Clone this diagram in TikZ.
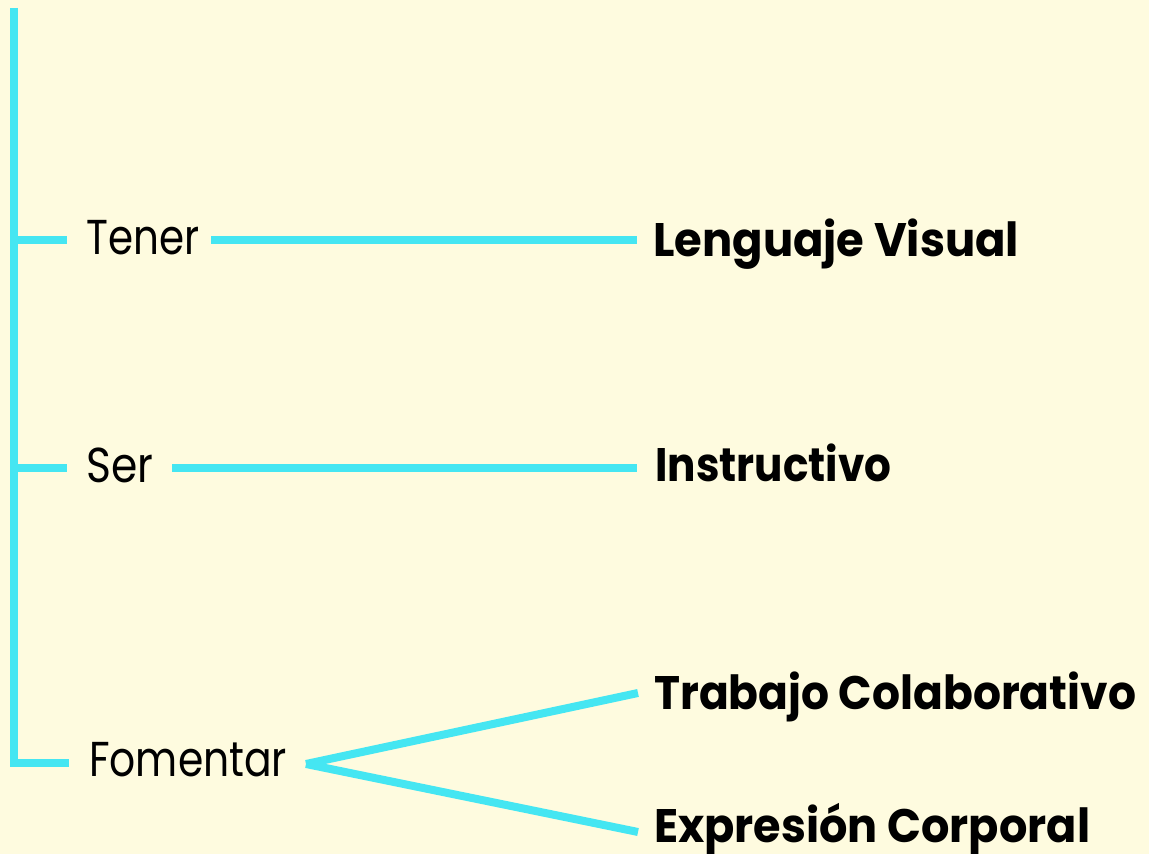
\documentclass[tikz,border=0pt]{standalone}
\usepackage{fontspec}
\setmainfont{Poppins}
\usepackage{graphicx}
\definecolor{bg}{HTML}{FEFBDF}
\definecolor{cy}{HTML}{45E6F2}
\newcommand\fitto[2]{\resizebox{#1}{\height}{#2}}
\begin{document}
\begin{tikzpicture}[x=1pt,y=1pt,
  conn/.style={draw=cy,line width=8pt,line cap=butt},
  reg/.style={anchor=base west,inner sep=0pt,font=\fontsize{49}{58}\selectfont},
  bld/.style={anchor=base west,inner sep=0pt,font=\fontsize{47}{56}\selectfont\bfseries}]
\fill[bg] (0,0) rectangle (1149,854);
\useasboundingbox (0,0) rectangle (1149,854);
% texts
\node[reg] (tener) at (86,599) {\fitto{113pt}{Tener}};
\node[reg] (ser) at (86,371) {\fitto{67pt}{Ser}};
\node[reg] (fom) at (89,77) {\fitto{198pt}{Fomentar}};
\node[bld] (lv) at (653,597) {\fitto{366pt}{Lenguaje Visual}};
\node[bld] (ins) at (655,372) {\fitto{236pt}{Instructivo}};
\node[bld] (tc) at (654,144) {\fitto{482pt}{Trabajo Colaborativo}};
\node[bld] (ec) at (654,11) {\fitto{436pt}{Expresión Corporal}};
% spine
\coordinate (top) at (14,846);
\coordinate (bot) at (14,87);
\draw[conn] (top) -- (bot);
\coordinate (k1) at (10,613.5); \coordinate (k1e) at (67,613.5);
\coordinate (k2) at (10,386);   \coordinate (k2e) at (67,386);
\coordinate (k3) at (10,91);    \coordinate (k3e) at (69,91);
\draw[conn] (k1) -- (k1e);
\draw[conn] (k2) -- (k2e);
\draw[conn] (k3) -- (k3e);
% connectors
\coordinate (a1) at (211,613.5); \coordinate (b1) at (637,613.5);
\coordinate (a2) at (172,386);   \coordinate (b2) at (637,386);
\draw[conn] (a1) -- (b1);
\draw[conn] (a2) -- (b2);
\coordinate (v) at (306,90);
\coordinate (e1) at (638,161);
\coordinate (e2) at (638,22);
\draw[conn] (v) -- (e1);
\draw[conn] (v) -- (e2);
\end{tikzpicture}
\end{document}
